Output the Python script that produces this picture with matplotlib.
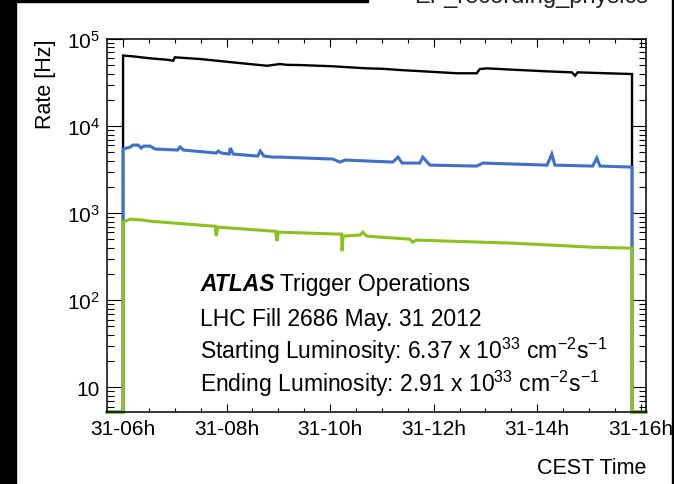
import matplotlib
matplotlib.use("Agg")
import matplotlib.pyplot as plt
from matplotlib.patches import Rectangle
from matplotlib.ticker import FixedLocator, LogLocator, MultipleLocator, NullFormatter

plt.rcParams['font.family'] = ['Liberation Sans', 'DejaVu Sans']
plt.rcParams['mathtext.fontset'] = 'custom'
plt.rcParams['mathtext.rm'] = 'Liberation Sans'
plt.rcParams['mathtext.it'] = 'Liberation Sans:italic'
plt.rcParams['mathtext.bf'] = 'Liberation Sans:bold'

# rates per stream, time in hours of 31 May 2012 (CEST)
black_t = [6.00, 6.19, 6.52, 6.85, 6.97, 7.00, 7.49, 8.12, 8.78, 9.03, 9.16, 9.42,
           10.05, 10.71, 11.02, 11.35, 11.60, 12.45, 12.83, 12.89, 13.03, 13.53,
           14.19, 14.67, 14.73, 14.78, 15.34, 15.83]
black_v = [64500, 63200, 60000, 57800, 56300, 61600, 58900, 53900, 49300, 51600, 50500, 50200,
           48600, 46000, 45500, 44000, 43200, 40400, 40400, 45200, 46000, 44400,
           42500, 41400, 37900, 41400, 40400, 39600]

blue_t = [6.00, 6.14, 6.19, 6.29, 6.35, 6.40, 6.52, 6.62, 7.05, 7.10, 7.17, 7.80, 7.84, 7.90,
          8.05, 8.07, 8.13, 8.60, 8.65, 8.72, 8.90, 9.03, 10.05, 10.19, 10.29, 11.21, 11.31,
          11.39, 11.73, 11.79, 11.87, 11.93, 12.83, 12.95, 14.19, 14.28, 14.34, 15.07, 15.15,
          15.21, 15.83]
blue_v = [5450, 5740, 6050, 6050, 5590, 5890, 5890, 5450, 5300, 5740, 5300, 4900, 5160, 4900,
          4770, 5590, 4770, 4520, 5160, 4520, 4400, 4400, 4180, 3860, 4070, 3860, 4400,
          3760, 3760, 4400, 3860, 3560, 3470, 3760, 3560, 4770, 3560, 3470, 4290,
          3470, 3380]

green_t = [6.00, 6.14, 6.39, 6.52, 7.74, 7.78, 7.80, 7.83, 8.90, 8.95, 8.97, 9.00, 10.19,
           10.22, 10.23, 10.25, 10.58, 10.63, 10.71, 10.96, 11.54, 11.59, 11.66, 13.53,
           15.07, 15.83]
green_v = [789, 853, 831, 809, 709, 709, 545, 690, 621, 621, 477, 605, 574,
           574, 366, 545, 560, 605, 545, 530, 503, 464, 490, 452,
           406, 396]

hour_ticks = [6, 8, 10, 12, 14, 16]
hour_labels = ["31-06h", "31-08h", "31-10h", "31-12h", "31-14h", "31-16h"]
rate_ticks = [10, 1e2, 1e3, 1e4, 1e5]
rate_labels = ["10", "$10^{2}$", "$10^{3}$", "$10^{4}$", "$10^{5}$"]

t_lo, t_hi = 5.69, 16.10
y_lo, y_hi = 5.2, 1e5

W, H = 674, 485
fig = plt.figure(figsize=(W / 100, H / 100), dpi=100)
ax = fig.add_axes([107 / W, 1 - 413 / H, (646 - 107) / W, (413 - 40) / H])


def trace(t, v, color, lw):
    # histogram is empty outside the fill, so drop to the frame bottom at both ends
    tt = [t_lo, t[0]] + t + [t[-1], t_hi]
    vv = [y_lo, y_lo] + v + [y_lo, y_lo]
    ax.plot(tt, vv, color=color, lw=lw, clip_on=False, solid_joinstyle='miter')


trace(black_t, black_v, "black", 1.7)
trace(blue_t, blue_v, "#3f6fcc", 2.2)
trace(green_t, green_v, "#8cc21f", 2.2)

ax.set_yscale("log")
ax.set_xlim(t_lo, t_hi)
ax.set_ylim(y_lo, y_hi)

ax.xaxis.set_major_locator(FixedLocator(hour_ticks))
ax.set_xticklabels(hour_labels)
ax.xaxis.set_minor_locator(MultipleLocator(0.5))
ax.yaxis.set_major_locator(FixedLocator(rate_ticks))
ax.set_yticklabels(rate_labels)
ax.yaxis.set_minor_locator(LogLocator(base=10, subs=range(2, 10)))
ax.yaxis.set_minor_formatter(NullFormatter())

ax.tick_params(which="both", direction="in", top=True, right=True, width=0.8,
               labelsize=15, colors="black")
ax.tick_params(axis="x", which="major", length=6, pad=5)
ax.tick_params(axis="x", which="minor", length=3)
ax.tick_params(axis="y", which="major", length=11, pad=5)
ax.tick_params(axis="y", which="minor", length=5)
for s in ax.spines.values():
    s.set_linewidth(1.1)

ax.set_ylabel("Rate [Hz]", fontsize=15.5, loc="top", labelpad=8)
ax.set_xlabel("CEST Time", fontsize=15.5, loc="right", labelpad=14)

txt_kw = dict(transform=fig.transFigure, fontsize=16.5, ha="left", va="baseline")
atlas = fig.text(200 / W, 1 - 291 / H, "ATLAS", fontweight="bold", style="italic",
                 **txt_kw)
ax.annotate(" Trigger Operations", xy=(1, 0), xycoords=atlas, fontsize=16.5,
            ha="left", va="bottom")
fig.text(200 / W, 1 - 326 / H, "LHC Fill 2686 May. 31 2012", **txt_kw)
fig.text(200 / W, 1 - 359 / H,
         r"Starting Luminosity: 6.37 x 10$^{33}$ cm$^{-2}$s$^{-1}$", **txt_kw)
fig.text(200 / W, 1 - 392 / H,
         r"Ending Luminosity: 2.91 x 10$^{33}$ cm$^{-2}$s$^{-1}$", **txt_kw)

fig.text(648 / W, 1 - 3 / H, "EF_recording_physics", transform=fig.transFigure,
         fontsize=17, ha="right", va="baseline", color="#222222")

# dark borders around the canvas
fig.patches.append(Rectangle((0, 0), 16 / W, 1, transform=fig.transFigure,
                             color="black", zorder=10))
fig.patches.append(Rectangle((0, 1 - 3 / H), 368 / W, 3 / H, transform=fig.transFigure,
                             color="black", zorder=10))
fig.patches.append(Rectangle((672 / W, 0), 2 / W, 1, transform=fig.transFigure,
                             color="black", zorder=10))

fig.savefig("out.png", dpi=100)
